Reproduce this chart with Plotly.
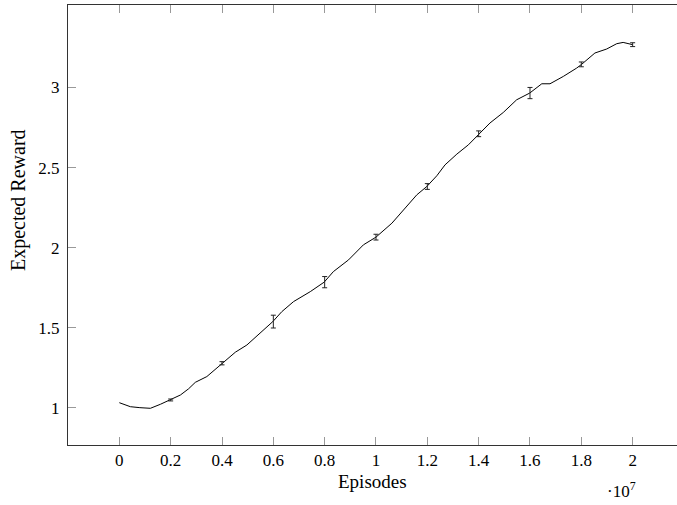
import plotly.graph_objects as go

# Training curve (episodes in units of 1e7)
episodes = [0.0, 0.043, 0.08, 0.121, 0.16, 0.199, 0.238, 0.27, 0.296, 0.341, 0.37, 0.4,
            0.452, 0.497, 0.542, 0.598, 0.633, 0.679, 0.744, 0.798, 0.834, 0.893, 0.951,
            1.0, 1.062, 1.101, 1.159, 1.198, 1.237, 1.269, 1.315, 1.36, 1.402, 1.444,
            1.496, 1.548, 1.599, 1.646, 1.678, 1.73, 1.782, 1.801, 1.853, 1.899, 1.938,
            1.963, 2.0]
reward = [1.033, 1.008, 1.002, 0.998, 1.023, 1.05, 1.081, 1.12, 1.16, 1.196, 1.235, 1.279,
          1.348, 1.393, 1.46, 1.539, 1.601, 1.664, 1.726, 1.785, 1.851, 1.924, 2.018,
          2.066, 2.153, 2.226, 2.33, 2.382, 2.449, 2.517, 2.584, 2.642, 2.711, 2.778,
          2.844, 2.923, 2.965, 3.023, 3.023, 3.069, 3.121, 3.144, 3.215, 3.24, 3.273,
          3.281, 3.267]

# Evaluation checkpoints with spread
err_x = [0.2, 0.4, 0.6, 0.8, 1.0, 1.2, 1.4, 1.6, 1.8, 2.0]
err_mean = [1.05, 1.279, 1.539, 1.785, 2.066, 2.382, 2.711, 2.965, 3.144, 3.267]
err_dev = [0.006, 0.01, 0.04, 0.035, 0.018, 0.018, 0.018, 0.035, 0.015, 0.012]

x_ticks = [0, 0.2, 0.4, 0.6, 0.8, 1.0, 1.2, 1.4, 1.6, 1.8, 2.0]
x_tick_text = ["0", "0.2", "0.4", "0.6", "0.8", "1", "1.2", "1.4", "1.6", "1.8", "2"]
y_ticks = [1, 1.5, 2, 2.5, 3]
y_tick_text = ["1", "1.5", "2", "2.5", "3"]

SCALE = 1e7
serif = "Liberation Serif, Times New Roman, serif"

fig = go.Figure()
fig.add_trace(go.Scatter(
    x=[v * SCALE for v in episodes], y=reward, mode="lines",
    line=dict(color="black", width=1), showlegend=False, hoverinfo="skip"))
fig.add_trace(go.Scatter(
    x=[v * SCALE for v in err_x], y=err_mean, mode="markers",
    marker=dict(size=0.1, color="black"),
    error_y=dict(type="data", array=err_dev, color="#222", thickness=1, width=2.5),
    showlegend=False, hoverinfo="skip"))

fig.update_layout(
    width=677, height=505,
    margin=dict(l=67.6, r=0, t=5.3, b=60),
    paper_bgcolor="white", plot_bgcolor="white",
    font=dict(family=serif, color="black"),
    xaxis=dict(
        range=[-0.2 * SCALE, 2.1728 * SCALE],
        tickvals=[v * SCALE for v in x_ticks], ticktext=x_tick_text,
        tickfont=dict(size=17, family=serif),
        ticks="inside", ticklen=8, tickcolor="#999", tickwidth=1,
        showline=True, linecolor="#333", linewidth=1, mirror="ticks",
        showgrid=False, zeroline=False, ticklabelstandoff=0),
    yaxis=dict(
        range=[0.769, 3.5145],
        tickvals=y_ticks, ticktext=y_tick_text,
        tickfont=dict(size=17, family=serif),
        ticks="inside", ticklen=8, tickcolor="#999", tickwidth=1,
        showline=True, linecolor="#333", linewidth=1,
        showgrid=False, zeroline=False, ticklabelstandoff=4),
    annotations=[
        dict(text="Episodes", xref="x", yref="paper", x=0.985 * SCALE, y=0,
             yanchor="middle", yshift=-36, showarrow=False,
             font=dict(size=19, family=serif)),
        dict(text="·10<sup>7</sup>", xref="x", yref="paper", x=1.958 * SCALE, y=0,
             yanchor="middle", yshift=-45, showarrow=False,
             font=dict(size=17, family=serif)),
        dict(text="Expected Reward", xref="paper", yref="y", x=0, y=2.3,
             xanchor="center", xshift=-49.6, textangle=-90, showarrow=False,
             font=dict(size=20, family=serif)),
    ],
)

fig.write_html("out.html")
